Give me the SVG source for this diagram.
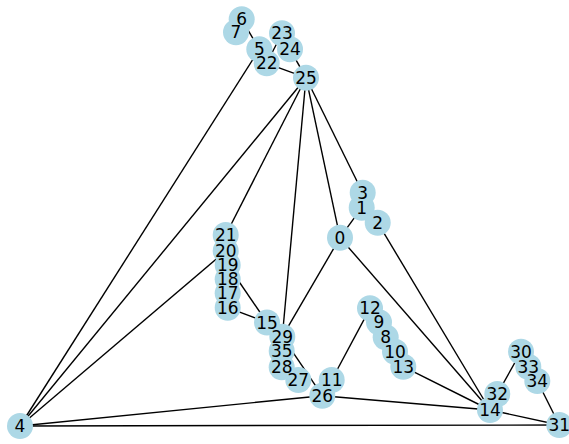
<svg xmlns="http://www.w3.org/2000/svg" width="569" height="444" viewBox="0 0 569 444">
<style>
.e{stroke:#000;stroke-width:1.4;fill:none}
.n circle{fill:#add8e6}
.lb text{font-family:"DejaVu Sans",sans-serif;font-size:17px;fill:#000;text-anchor:middle;dominant-baseline:central}
</style>
<rect width="569" height="444" fill="#fff"/>
<g id="edges">
<line class="e" x1="20" y1="426" x2="259.3" y2="49.3"/>
<line class="e" x1="20" y1="426" x2="306" y2="77.7"/>
<line class="e" x1="20" y1="426" x2="225.7" y2="251"/>
<line class="e" x1="20" y1="426" x2="322.3" y2="395.7"/>
<line class="e" x1="20" y1="426" x2="559.3" y2="425"/>
<line class="e" x1="241.7" y1="19.3" x2="259.3" y2="49.3"/>
<line class="e" x1="282" y1="33.3" x2="266.7" y2="63.3"/>
<line class="e" x1="290" y1="49.3" x2="306" y2="77.7"/>
<line class="e" x1="266.7" y1="63.3" x2="306" y2="77.7"/>
<line class="e" x1="306" y1="77.7" x2="225.7" y2="235"/>
<line class="e" x1="306" y1="77.7" x2="282.3" y2="336.7"/>
<line class="e" x1="306" y1="77.7" x2="340" y2="237.7"/>
<line class="e" x1="306" y1="77.7" x2="362.7" y2="192.7"/>
<line class="e" x1="362.7" y1="192.7" x2="377.7" y2="222.7"/>
<line class="e" x1="340" y1="237.7" x2="361.7" y2="207.7"/>
<line class="e" x1="340" y1="237.7" x2="282.3" y2="336.7"/>
<line class="e" x1="340" y1="237.7" x2="490" y2="410"/>
<line class="e" x1="377.7" y1="222.7" x2="490" y2="410"/>
<line class="e" x1="227.7" y1="265" x2="267" y2="322.5"/>
<line class="e" x1="227.7" y1="307.7" x2="267" y2="322.5"/>
<line class="e" x1="282.3" y1="336.7" x2="322.3" y2="395.7"/>
<line class="e" x1="331.7" y1="380" x2="370" y2="308.3"/>
<line class="e" x1="403.3" y1="366.7" x2="490" y2="410"/>
<line class="e" x1="322.3" y1="395.7" x2="490" y2="410"/>
<line class="e" x1="490" y1="410" x2="559.3" y2="425"/>
<line class="e" x1="521" y1="351.7" x2="497.3" y2="394"/>
<line class="e" x1="537.3" y1="381" x2="559.3" y2="425"/>
</g>
<g id="nodes">
<g id="n0" class="n"><circle cx="340" cy="237.7" r="13"/></g>
<g id="n1" class="n"><circle cx="361.7" cy="207.7" r="13"/></g>
<g id="n2" class="n"><circle cx="377.7" cy="222.7" r="13"/></g>
<g id="n3" class="n"><circle cx="362.7" cy="192.7" r="13"/></g>
<g id="n4" class="n"><circle cx="20" cy="426" r="13"/></g>
<g id="n5" class="n"><circle cx="259.3" cy="49.3" r="13"/></g>
<g id="n6" class="n"><circle cx="241.7" cy="19.3" r="13"/></g>
<g id="n7" class="n"><circle cx="236" cy="32.3" r="13"/></g>
<g id="n8" class="n"><circle cx="385.7" cy="337.3" r="13"/></g>
<g id="n9" class="n"><circle cx="379" cy="322.3" r="13"/></g>
<g id="n10" class="n"><circle cx="395" cy="351.7" r="13"/></g>
<g id="n11" class="n"><circle cx="331.7" cy="380" r="13"/></g>
<g id="n12" class="n"><circle cx="370" cy="308.3" r="13"/></g>
<g id="n13" class="n"><circle cx="403.3" cy="366.7" r="13"/></g>
<g id="n14" class="n"><circle cx="490" cy="410" r="13"/></g>
<g id="n15" class="n"><circle cx="267" cy="322.5" r="13"/></g>
<g id="n16" class="n"><circle cx="227.7" cy="307.7" r="13"/></g>
<g id="n17" class="n"><circle cx="227.7" cy="293.3" r="13"/></g>
<g id="n18" class="n"><circle cx="227.7" cy="279.3" r="13"/></g>
<g id="n19" class="n"><circle cx="227.7" cy="265" r="13"/></g>
<g id="n20" class="n"><circle cx="225.7" cy="251" r="13"/></g>
<g id="n21" class="n"><circle cx="225.7" cy="235" r="13"/></g>
<g id="n22" class="n"><circle cx="266.7" cy="63.3" r="13"/></g>
<g id="n23" class="n"><circle cx="282" cy="33.3" r="13"/></g>
<g id="n24" class="n"><circle cx="290" cy="49.3" r="13"/></g>
<g id="n25" class="n"><circle cx="306" cy="77.7" r="13"/></g>
<g id="n26" class="n"><circle cx="322.3" cy="395.7" r="13"/></g>
<g id="n27" class="n"><circle cx="298.3" cy="380" r="13"/></g>
<g id="n28" class="n"><circle cx="281.7" cy="367.3" r="13"/></g>
<g id="n29" class="n"><circle cx="282.3" cy="336.7" r="13"/></g>
<g id="n30" class="n"><circle cx="521" cy="351.7" r="13"/></g>
<g id="n31" class="n"><circle cx="559.3" cy="425" r="13"/></g>
<g id="n32" class="n"><circle cx="497.3" cy="394" r="13"/></g>
<g id="n33" class="n"><circle cx="528.3" cy="366.7" r="13"/></g>
<g id="n34" class="n"><circle cx="537.3" cy="381" r="13"/></g>
<g id="n35" class="n"><circle cx="281.7" cy="351" r="13"/></g>
</g>
<g id="labels" class="lb">
<text x="340" y="237.7">0</text>
<text x="361.7" y="207.7">1</text>
<text x="377.7" y="222.7">2</text>
<text x="362.7" y="192.7">3</text>
<text x="20" y="426">4</text>
<text x="259.3" y="49.3">5</text>
<text x="241.7" y="19.3">6</text>
<text x="236" y="32.3">7</text>
<text x="385.7" y="337.3">8</text>
<text x="379" y="322.3">9</text>
<text x="395" y="351.7">10</text>
<text x="331.7" y="380">11</text>
<text x="370" y="308.3">12</text>
<text x="403.3" y="366.7">13</text>
<text x="490" y="410">14</text>
<text x="267" y="322.5">15</text>
<text x="227.7" y="307.7">16</text>
<text x="227.7" y="293.3">17</text>
<text x="227.7" y="279.3">18</text>
<text x="227.7" y="265">19</text>
<text x="225.7" y="251">20</text>
<text x="225.7" y="235">21</text>
<text x="266.7" y="63.3">22</text>
<text x="282" y="33.3">23</text>
<text x="290" y="49.3">24</text>
<text x="306" y="77.7">25</text>
<text x="322.3" y="395.7">26</text>
<text x="298.3" y="380">27</text>
<text x="281.7" y="367.3">28</text>
<text x="282.3" y="336.7">29</text>
<text x="521" y="351.7">30</text>
<text x="559.3" y="425">31</text>
<text x="497.3" y="394">32</text>
<text x="528.3" y="366.7">33</text>
<text x="537.3" y="381">34</text>
<text x="281.7" y="351">35</text>
</g>
</svg>
